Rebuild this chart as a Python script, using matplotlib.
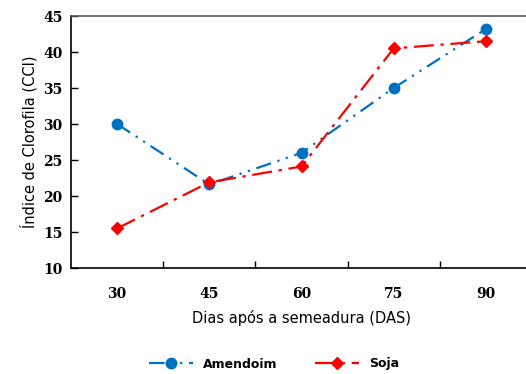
import matplotlib
matplotlib.use("Agg")
import matplotlib.pyplot as plt

categories = ["30", "45", "60", "75", "90"]
amendoim = [30.0, 21.6, 26.0, 35.0, 43.2]
soja = [15.5, 21.9, 24.1, 40.5, 41.5]
yticks = [10, 15, 20, 25, 30, 35, 40, 45]

fig = plt.figure(figsize=(5.26, 3.74), dpi=100)
ax = fig.add_axes([71/526, (374-268)/374, (532-71)/526, (268-16)/374])

x = list(range(len(categories)))
ax.plot(x, amendoim, color="#0070C0", lw=1.6, marker="o", ms=7.5,
        dashes=[7, 3, 1, 3, 1, 3], label="Amendoim")
ax.plot(x, soja, color="#FF0000", lw=1.6, marker="D", ms=6,
        dashes=[9, 3, 1.5, 3], label="Soja")

ax.set_xlim(-0.5, 4.5)
ax.set_ylim(10, 45)
ax.set_yticks(yticks)
ax.set_yticklabels([str(v) for v in yticks], fontfamily="DejaVu Serif",
                   fontweight="bold", fontsize=10)
ax.set_xticks(x)
ax.set_xticklabels(categories, fontfamily="DejaVu Serif", fontweight="bold", fontsize=10)
ax.set_xticks([i + 0.5 for i in range(len(categories) - 1)], minor=True)
ax.tick_params(axis="x", which="major", length=0, pad=14)
ax.tick_params(axis="x", which="minor", direction="in", length=5, width=1)
ax.tick_params(axis="y", direction="in", length=5, width=1, pad=6)

for s in ["left", "bottom"]:
    ax.spines[s].set_color("black")
    ax.spines[s].set_linewidth(1.2)
ax.spines["top"].set_color("#595959")
ax.spines["top"].set_linewidth(1.2)
ax.spines["right"].set_visible(False)

ax.set_xlabel("Dias após a semeadura (DAS)", fontsize=10.5, labelpad=6)
ax.set_ylabel("Índice de Clorofila (CCI)", fontsize=10.5, labelpad=4)

fig.legend(loc="center", bbox_to_anchor=(274/526, 1 - 364/374), ncol=2,
           frameon=False, fontsize=9, prop={"weight": "bold", "size": 9},
           handlelength=3.5, columnspacing=3)

fig.savefig("out.png", dpi=100)
